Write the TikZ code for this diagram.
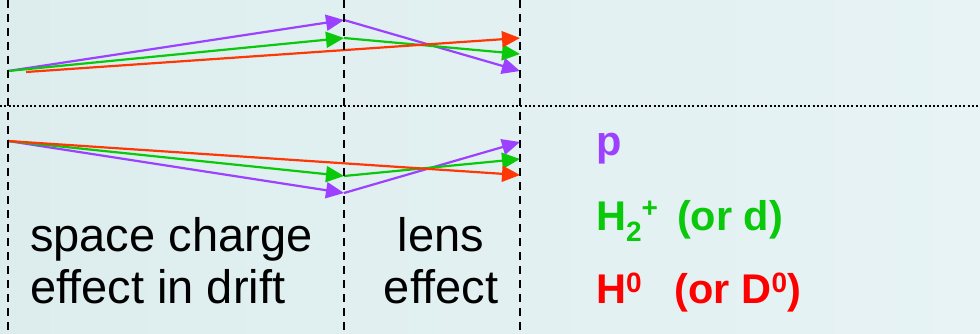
\documentclass[tikz,border=0pt]{standalone}
\usepackage{fontspec}
\setmainfont{Liberation Sans}
\usetikzlibrary{arrows.meta}
\definecolor{bgA}{RGB}{221,237,238}
\definecolor{bgB}{RGB}{231,243,244}
\definecolor{rayP}{RGB}{155,65,255}
\definecolor{rayG}{RGB}{10,200,10}
\definecolor{rayR}{RGB}{255,55,5}
\definecolor{txtP}{RGB}{155,65,255}
\definecolor{txtG}{RGB}{10,200,10}
\definecolor{txtR}{RGB}{255,0,0}
\tikzset{
  ray/.style={line width=2.2pt,-{Triangle[length=18pt,width=16pt]}},
  vdash/.style={line width=2.2pt,dash pattern=on 8pt off 6pt},
  hdot/.style={line width=2pt,dash pattern=on 2pt off 2.3pt},
  bigtxt/.style={font=\fontsize{47}{49}\selectfont,anchor=base west,inner sep=0pt},
  midtxt/.style={font=\fontsize{47}{49}\selectfont,anchor=base,inner sep=0pt},
  legtxt/.style={font=\fontsize{41.5}{44}\selectfont\bfseries,anchor=base west,inner sep=0pt}
}
\newcommand{\smallscr}[1]{{\fontsize{28}{28}\selectfont #1}}
\begin{document}
\begin{tikzpicture}[x=1pt,y=-1pt]
\useasboundingbox (0,0) rectangle (980,334);
\shade[left color=bgA,right color=bgB] (0,0) rectangle (980,334);
% coordinates
\coordinate (ts) at (8,71);
\coordinate (trs) at (26,72);
\coordinate (tpm) at (344,20);
\coordinate (tgm) at (344,38);
\coordinate (tpe) at (520,71);
\coordinate (tge) at (520,54);
\coordinate (tre) at (520,38);
\coordinate (bs) at (8,141);
\coordinate (bpm) at (344,193);
\coordinate (bgm) at (344,176);
\coordinate (bpe) at (520,142);
\coordinate (bge) at (520,159);
\coordinate (bre) at (520,175);
\coordinate (l1t) at (8,0);
\coordinate (l1b) at (8,334);
\coordinate (l2t) at (344,0);
\coordinate (l2b) at (344,334);
\coordinate (l3t) at (520,0);
\coordinate (l3b) at (520,334);
\coordinate (hl) at (0,106);
\coordinate (hr) at (980,106);
% top rays
\draw[rayP,ray] (ts) -- (tpm);
\draw[rayP,ray] (tpm) -- (tpe);
\draw[rayG,ray] (ts) -- (tgm);
\draw[rayG,ray] (tgm) -- (tge);
\draw[rayR,ray] (trs) -- (tre);
% bottom rays
\draw[rayP,ray] (bs) -- (bpm);
\draw[rayP,ray] (bpm) -- (bpe);
\draw[rayG,ray] (bs) -- (bgm);
\draw[rayG,ray] (bgm) -- (bge);
\draw[rayR,ray] (bs) -- (bre);
% guide lines
\draw[vdash] (l1t) -- (l1b);
\draw[vdash] (l2t) -- (l2b);
\draw[vdash] (l3t) -- (l3b);
\draw[hdot] (hl) -- (hr);
% texts
\node[bigtxt] (sc1) at (30,251) {space charge};
\node[bigtxt] (sc2) at (30,303) {effect in drift};
\node[midtxt] (le1) at (441,251) {lens};
\node[midtxt] (le2) at (441,303) {effect};
\node[legtxt,text=txtP] (lp) at (596,156) {p};
\node[legtxt,text=txtG] (lg) at (596,230) {H\raisebox{-11pt}{\smallscr{2}}\raisebox{13pt}{\smallscr{+}}\hspace{19pt}(or d)};
\node[legtxt,text=txtR] (lr) at (596,303) {H\raisebox{11pt}{\smallscr{0}}\hspace{33pt}(or D\raisebox{11pt}{\smallscr{0}})};
\end{tikzpicture}
\end{document}
